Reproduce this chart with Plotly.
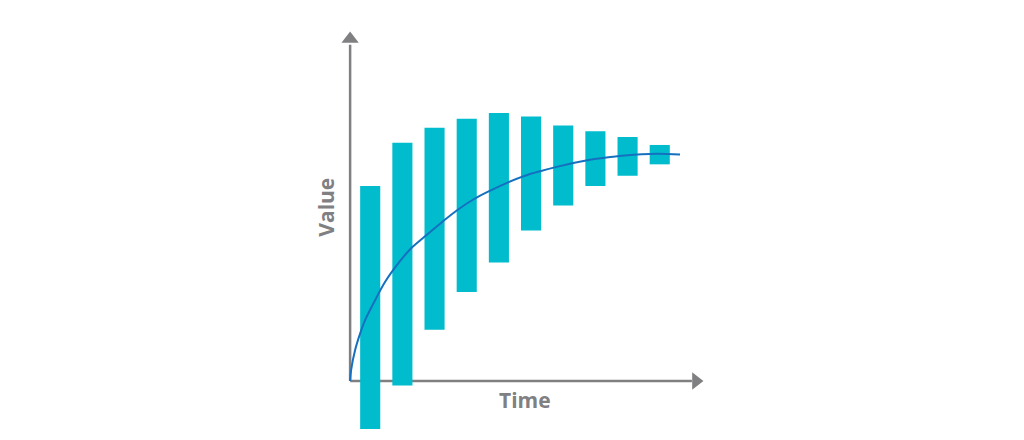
import plotly.graph_objects as go

# Data
periods = [1, 2, 3, 4, 5, 6, 7, 8, 9, 10]
bar_top = [85.5, 104.5, 111, 115, 117.5, 116, 112, 109.5, 107, 103.5]
bar_bottom = [-21, -2, 22.5, 39, 52, 66, 77, 85.5, 90, 95]

curve_x = [0.375, 0.406, 0.531, 0.688, 0.844, 1.103, 1.469, 1.834, 2.25, 2.666,
           3.19, 3.71, 4.23, 4.75, 5.27, 5.79, 6.31, 6.83, 7.35, 7.875, 8.40,
           8.92, 9.44, 9.96, 10.63]
curve_y = [0, 4.8, 13.6, 20.9, 26.8, 34.1, 43.6, 50.9, 57.9, 63.0,
           69.2, 75.0, 79.8, 83.6, 87.0, 89.9, 92.1, 94.0, 95.7, 97.1, 98.1,
           98.9, 99.4, 99.6, 99.3]

x_label = "Time"
y_label = "Value"

# Layout constants
X0, Y0 = 0.375, 0.0          # origin of drawn axes
X_END, Y_END = 11.0, 147.4   # end of axis shafts
X_TIP, Y_TIP = 11.125, 150.0 # arrowhead centers
AXIS_COLOR = "#808083"
BAR_COLOR = "#00bccd"
LINE_COLOR = "#1570c0"

fig = go.Figure()

fig.add_trace(go.Bar(
    x=periods,
    y=[t - b for t, b in zip(bar_top, bar_bottom)],
    base=bar_bottom,
    width=0.625,
    marker=dict(color=BAR_COLOR, line=dict(width=0)),
    hoverinfo="skip",
))

fig.add_trace(go.Scatter(
    x=curve_x, y=curve_y, mode="lines",
    line=dict(color=LINE_COLOR, width=2, shape="spline", smoothing=1.0),
    hoverinfo="skip",
))

# Arrowheads
fig.add_trace(go.Scatter(
    x=[X0, X_TIP], y=[Y_TIP, Y0], mode="markers",
    marker=dict(symbol=["triangle-up", "triangle-right"], size=15, color=AXIS_COLOR,
                line=dict(width=0)),
    hoverinfo="skip", cliponaxis=False,
))

fig.add_shape(type="line", x0=X0, y0=Y0, x1=X_END, y1=Y0, layer="below",
              line=dict(color=AXIS_COLOR, width=2.5))
fig.add_shape(type="line", x0=X0, y0=Y0, x1=X0, y1=Y_END, layer="below",
              line=dict(color=AXIS_COLOR, width=2.5))

fig.add_annotation(x=5.8, y=-8.5, text=x_label, showarrow=False, xref="x", yref="y",
                   font=dict(family="Open Sans", size=21, color=AXIS_COLOR, weight="bold"))
fig.add_annotation(x=-0.0105, y=76, text=y_label, showarrow=False, xref="paper", yref="y",
                   xanchor="center", yanchor="middle", textangle=-90,
                   font=dict(family="Open Sans", size=21, color=AXIS_COLOR, weight="bold"))

fig.update_layout(
    width=1024, height=440,
    margin=dict(l=330, r=314, t=25, b=5),
    plot_bgcolor="white", paper_bgcolor="white",
    showlegend=False,
    xaxis=dict(range=[-0.25, 11.5625], visible=False, fixedrange=True),
    yaxis=dict(range=[-23.68, 156.1], visible=False, fixedrange=True),
)

fig.write_html("out.html", config={"displayModeBar": False},
               post_script="document.body.style.margin='0';")
